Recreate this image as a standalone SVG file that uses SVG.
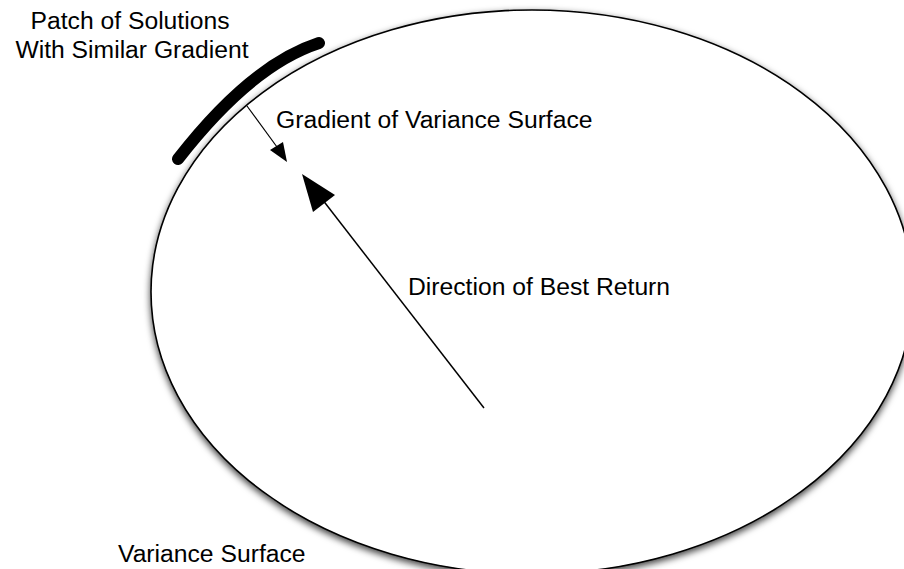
<svg xmlns="http://www.w3.org/2000/svg" width="904" height="569" viewBox="0 0 904 569">
<style>
  .lbl { font-family: "Liberation Sans", Arial, sans-serif; font-size: 24.7px; fill: #000; }
  .conn { stroke: #000; fill: none; }
</style>
<defs>
  <filter id="shadow" x="-10%" y="-10%" width="120%" height="120%">
    <feDropShadow dx="0" dy="3" stdDeviation="3.5" flood-color="#000" flood-opacity="0.75"/>
  </filter>
</defs>
<rect width="904" height="569" fill="#fff"/>
<g id="variance-surface">
  <ellipse cx="532" cy="292" rx="381" ry="282" fill="#fff" stroke="#000" stroke-width="1.6" filter="url(#shadow)"/>
  <text class="lbl" x="118" y="562">Variance Surface</text>
</g>
<g id="patch">
  <path d="M178,159 Q251,65 319,43" stroke="#000" stroke-width="12" stroke-linecap="round" fill="none"/>
  <text class="lbl" x="130" y="29" text-anchor="middle">Patch of Solutions</text>
  <text class="lbl" x="132" y="58" text-anchor="middle">With Similar Gradient</text>
</g>
<g id="connectors">
  <g id="gradient-arrow">
    <line class="conn" x1="247" y1="106" x2="277" y2="147" stroke-width="1.2"/>
    <polygon points="287,162 270,150 283,142" fill="#000"/>
  </g>
  <g id="return-arrow">
    <line class="conn" x1="484" y1="408" x2="322" y2="199" stroke-width="1.5"/>
    <polygon points="302,174 313,212 335,195" fill="#000"/>
  </g>
</g>
<g id="labels">
  <text class="lbl" x="276" y="128">Gradient of Variance Surface</text>
  <text class="lbl" x="408" y="295">Direction of Best Return</text>
</g>
</svg>
